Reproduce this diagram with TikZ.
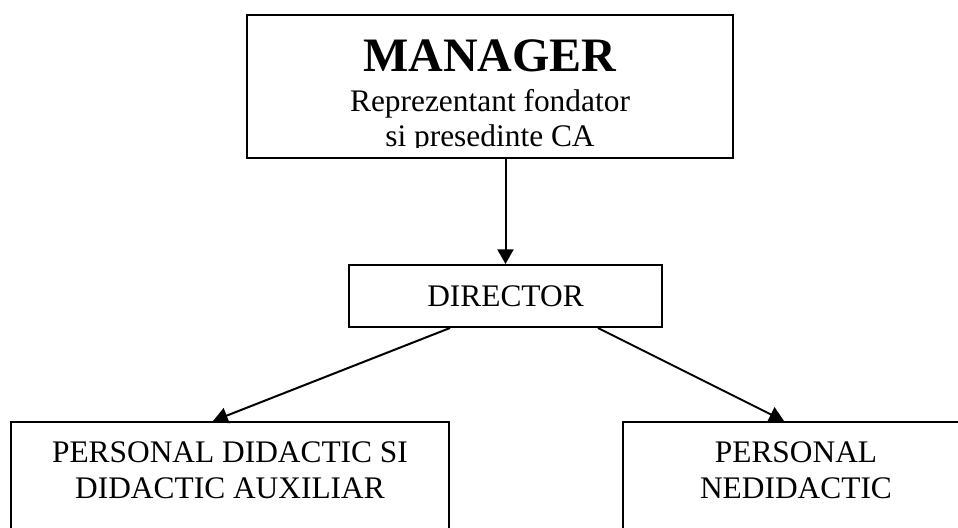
\documentclass[tikz,border=0pt]{standalone}
\usepackage{fontspec}
\setmainfont{Liberation Serif}
\usetikzlibrary{arrows.meta, positioning, calc}

\newcommand{\capstrut}{\rule{0pt}{15.6pt}}
\newcommand{\deepstrut}{\rule[-60pt]{0pt}{0pt}}

\begin{document}
\begin{tikzpicture}[
    x=0.75pt, y=-0.75pt,
    font=\fontsize{23.55pt}{26.25pt}\selectfont,
    box/.style={rectangle, draw, line width=1.5pt, inner sep=0pt},
    staff/.style={box, anchor=north, align=center, inner ysep=15pt, font=\fontsize{23.55pt}{27pt}\selectfont},
    arrow/.style={-{Triangle[length=11pt, width=12pt]}, line width=1.5pt}
  ]
  \useasboundingbox (0,0) rectangle (958,528);

  % top box, its text clipped like the original
  \node[box, minimum width=364.5pt, minimum height=107.25pt] (manager) at (490,86.5) {};
  \begin{scope}
    \clip (manager.north west) rectangle (733,148);
    \node[anchor=base, align=center, inner sep=0pt] (title) at (490,146.7)
      {{\fontsize{36pt}{40pt}\selectfont\bfseries MANAGER}\\[3.75pt]Reprezentant fondator\\si presedinte CA};
  \end{scope}

  \node[box, minimum width=234.75pt, minimum height=46.5pt] (director) at (505.5,296) {DIRECTOR};

  \node[staff, minimum width=328.5pt] (didactic) at (230,421)
    {\capstrut PERSONAL DIDACTIC SI\\DIDACTIC AUXILIAR\deepstrut};
  \node[staff, minimum width=259.5pt] (nondidactic) at (796,421)
    {\capstrut PERSONAL\\NEDIDACTIC\deepstrut};

  \draw[arrow] (director |- manager.south) -- (director.north);
  \draw[arrow] ($(director.south)+(-55.5,0)$) -- ($(didactic.north)+(-17,0)$);
  \draw[arrow] ($(director.south)+(92.5,0)$) -- ($(nondidactic.north)+(-12,0)$);
\end{tikzpicture}
\end{document}
